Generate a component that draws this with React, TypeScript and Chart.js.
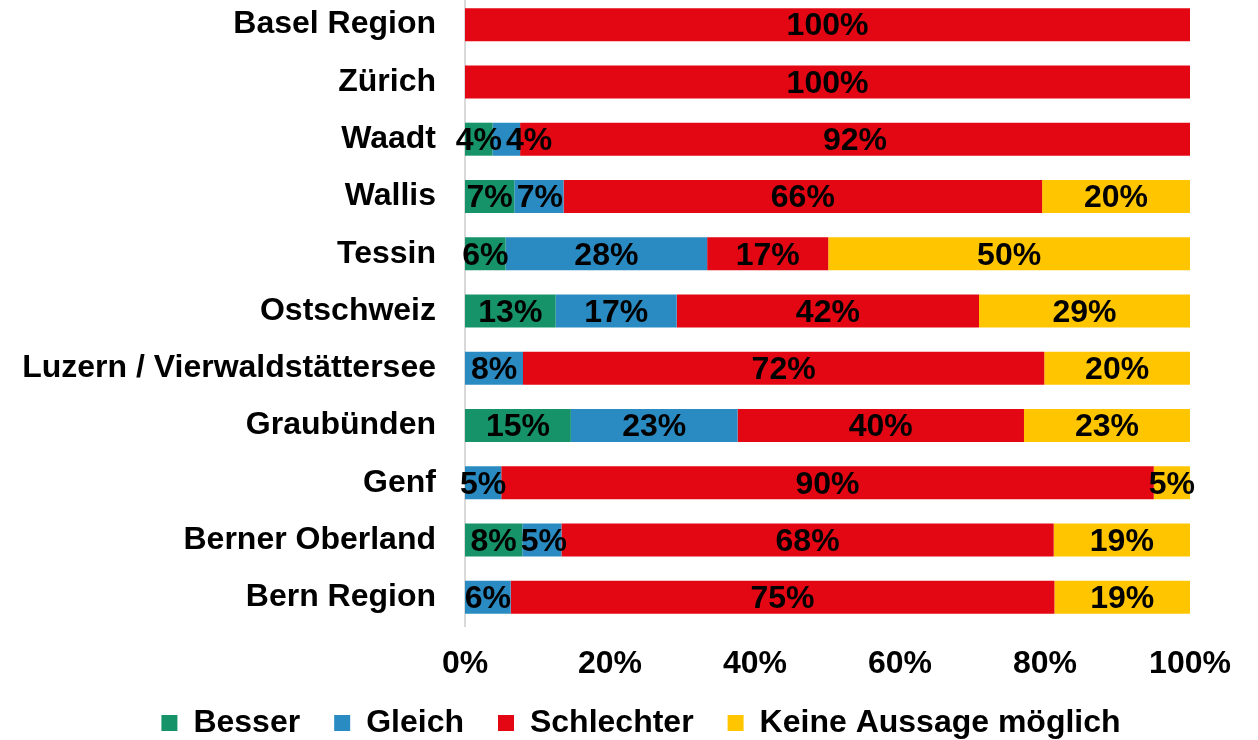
import React, { useEffect, useRef } from 'react';
import { Chart, registerables } from 'chart.js';

Chart.register(...registerables);

// ---- Data ----
const categories = [
  'Basel Region',
  'Zürich',
  'Waadt',
  'Wallis',
  'Tessin',
  'Ostschweiz',
  'Luzern / Vierwaldstättersee',
  'Graubünden',
  'Genf',
  'Berner Oberland',
  'Bern Region',
];
const seriesNames = ['Besser', 'Gleich', 'Schlechter', 'Keine Aussage möglich'];
const besser = [0, 0, 3.8, 6.8, 5.6, 12.5, 0, 14.6, 0, 7.9, 0];
const gleich = [0, 0, 3.8, 6.8, 27.8, 16.7, 8.0, 23.0, 5.0, 5.4, 6.3];
const schlechter = [100, 100, 92.4, 66.0, 16.7, 41.7, 71.9, 39.5, 90.0, 67.9, 75.0];
const keineAussage = [0, 0, 0, 20.4, 49.9, 29.1, 20.1, 22.9, 5.0, 18.8, 18.7];
const xTickStep = 20;
const xMax = 100;

const colors = ['#169368', '#2a8bc3', '#e30613', '#ffc600'];
const FONT_FAMILY = '"Liberation Sans", Arial, Helvetica, sans-serif';

// Draws the percentage label centred on each segment (shifted right if it
// would collide with the previous label of the same row).
const valueLabels = {
  id: 'valueLabels',
  afterDatasetsDraw(chart: any) {
    const ctx = chart.ctx;
    ctx.save();
    ctx.font = `bold 32px ${FONT_FAMILY}`;
    ctx.fillStyle = '#000';
    ctx.textAlign = 'center';
    ctx.textBaseline = 'middle';
    const n = chart.data.labels.length;
    for (let j = 0; j < n; j++) {
      let prevRight = -Infinity;
      chart.data.datasets.forEach((ds: any, i: number) => {
        const v = ds.data[j];
        if (!v) return;
        const el = chart.getDatasetMeta(i).data[j];
        const p = el.getCenterPoint();
        const text = Math.round(v) + '%';
        const w = ctx.measureText(text).width;
        let cx = p.x;
        if (cx - w / 2 < prevRight + 4) cx = prevRight + 4 + w / 2;
        ctx.fillText(text, cx, p.y + 2);
        prevRight = cx + w / 2;
      });
    }
    ctx.restore();
  },
};

// Let the tick labels draw outside their own layout boxes (no clipping).
const labelRoom = {
  id: 'labelRoom',
  afterLayout(chart: any) {
    chart.scales.x.bottom = chart.height;
    chart.scales.y.left = 0;
  },
};

export default function App() {
  const ref = useRef<HTMLCanvasElement | null>(null);

  useEffect(() => {
    if (!ref.current) return;
    const series = [besser, gleich, schlechter, keineAussage];
    const font = { family: FONT_FAMILY, size: 32, weight: 'bold' as const };
    const chart = new Chart(ref.current, {
      type: 'bar',
      data: {
        labels: categories,
        datasets: series.map((d, i) => ({
          label: seriesNames[i],
          data: d,
          backgroundColor: colors[i],
          borderWidth: 0,
          categoryPercentage: 1,
          barPercentage: 0.576,
        })),
      },
      options: {
        indexAxis: 'y',
        responsive: false,
        animation: false,
        layout: { padding: { left: 24, right: 0, top: 0, bottom: 0 } },
        plugins: {
          tooltip: { enabled: false },
          legend: {
            position: 'bottom',
            labels: {
              color: '#000',
              font,
              boxWidth: 16,
              boxHeight: 16,
              padding: 34,
            },
          },
        },
        scales: {
          x: {
            stacked: true,
            min: 0,
            max: xMax,
            grid: { display: false, drawTicks: false },
            border: { display: false },
            ticks: {
              stepSize: xTickStep,
              color: '#000',
              font,
              padding: 19,
              maxRotation: 0,
              callback: (v: any) => v + '%',
            },
            afterFit: (s: any) => {
              s.height = 47;
              s.paddingLeft = 0;
              s.paddingRight = 68;
            },
          },
          y: {
            stacked: true,
            grid: { display: false, drawTicks: false },
            border: { display: true, color: '#d9d9d9', width: 2 },
            ticks: { color: '#000', font, padding: 29, autoSkip: false },
            afterFit: (s: any) => {
              s.width = 441;
              s.paddingTop = 0;
              s.paddingBottom = 0;
            },
          },
        },
      },
      plugins: [valueLabels, labelRoom],
    });
    return () => chart.destroy();
  }, []);

  return (
    <div
      style={{
        position: 'fixed',
        left: 0,
        top: 0,
        width: 1258,
        height: 740,
        overflow: 'hidden',
        background: '#fff',
      }}
    >
      <canvas
        ref={ref}
        width={1258}
        height={753}
        style={{ position: 'absolute', left: 0, top: -4, display: 'block' }}
      />
    </div>
  );
}
